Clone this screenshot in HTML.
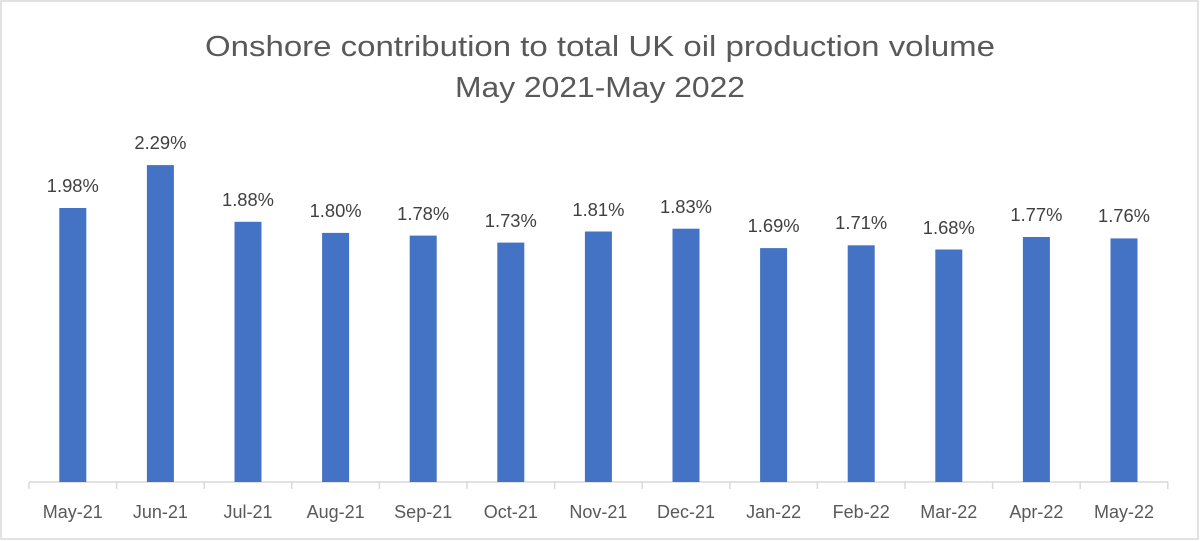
<!DOCTYPE html><html><head><style>body{margin:0;background:#fff}svg{display:block}</style></head><body>
<svg width="1200" height="541" xmlns="http://www.w3.org/2000/svg" font-family="Liberation Sans, sans-serif">
<rect x="1" y="1" width="1197" height="538" fill="#fff" stroke="#d9d9d9" stroke-width="1.5"/>
<text x="600" y="56" text-anchor="middle" font-size="29" fill="#595959" textLength="790" lengthAdjust="spacingAndGlyphs">Onshore contribution to total UK oil production volume</text>
<text x="600" y="97" text-anchor="middle" font-size="29" fill="#595959" textLength="290" lengthAdjust="spacingAndGlyphs">May 2021-May 2022</text>
<line x1="29" y1="482" x2="1168" y2="482" stroke="#d9d9d9" stroke-width="1.5"/>
<g stroke="#d9d9d9" stroke-width="1.5">
<line x1="29" y1="482" x2="29" y2="489"/><line x1="116.6" y1="482" x2="116.6" y2="489"/><line x1="204.2" y1="482" x2="204.2" y2="489"/><line x1="291.8" y1="482" x2="291.8" y2="489"/><line x1="379.4" y1="482" x2="379.4" y2="489"/><line x1="467" y1="482" x2="467" y2="489"/><line x1="554.6" y1="482" x2="554.6" y2="489"/><line x1="642.2" y1="482" x2="642.2" y2="489"/><line x1="729.8" y1="482" x2="729.8" y2="489"/><line x1="817.4" y1="482" x2="817.4" y2="489"/><line x1="905" y1="482" x2="905" y2="489"/><line x1="992.6" y1="482" x2="992.6" y2="489"/><line x1="1080.2" y1="482" x2="1080.2" y2="489"/><line x1="1167.8" y1="482" x2="1167.8" y2="489"/>
</g>
<g fill="#4472c4">
<rect x="59.3" y="208" width="27" height="274"/>
<rect x="146.9" y="165.1" width="27" height="316.9"/>
<rect x="234.5" y="221.8" width="27" height="260.2"/>
<rect x="322.1" y="232.9" width="27" height="249.1"/>
<rect x="409.7" y="235.6" width="27" height="246.4"/>
<rect x="497.3" y="242.6" width="27" height="239.4"/>
<rect x="584.9" y="231.5" width="27" height="250.5"/>
<rect x="672.5" y="228.7" width="27" height="253.3"/>
<rect x="760.1" y="248.1" width="27" height="233.9"/>
<rect x="847.7" y="245.3" width="27" height="236.7"/>
<rect x="935.3" y="249.5" width="27" height="232.5"/>
<rect x="1022.9" y="237" width="27" height="245"/>
<rect x="1110.5" y="238.4" width="27" height="243.6"/>
</g>
<g font-size="18" fill="#404040" text-anchor="middle">
<text x="72.8" y="192" textLength="52" lengthAdjust="spacingAndGlyphs">1.98%</text>
<text x="160.4" y="149" textLength="52" lengthAdjust="spacingAndGlyphs">2.29%</text>
<text x="248" y="206" textLength="52" lengthAdjust="spacingAndGlyphs">1.88%</text>
<text x="335.6" y="217" textLength="52" lengthAdjust="spacingAndGlyphs">1.80%</text>
<text x="423.2" y="220" textLength="52" lengthAdjust="spacingAndGlyphs">1.78%</text>
<text x="510.8" y="227" textLength="52" lengthAdjust="spacingAndGlyphs">1.73%</text>
<text x="598.4" y="216" textLength="52" lengthAdjust="spacingAndGlyphs">1.81%</text>
<text x="686" y="213" textLength="52" lengthAdjust="spacingAndGlyphs">1.83%</text>
<text x="773.6" y="232" textLength="52" lengthAdjust="spacingAndGlyphs">1.69%</text>
<text x="861.2" y="229" textLength="52" lengthAdjust="spacingAndGlyphs">1.71%</text>
<text x="948.8" y="234" textLength="52" lengthAdjust="spacingAndGlyphs">1.68%</text>
<text x="1036.4" y="221" textLength="52" lengthAdjust="spacingAndGlyphs">1.77%</text>
<text x="1124" y="222" textLength="52" lengthAdjust="spacingAndGlyphs">1.76%</text>
</g>
<g font-size="18" fill="#595959" text-anchor="middle">
<text x="72.8" y="518">May-21</text><text x="160.4" y="518">Jun-21</text><text x="248" y="518">Jul-21</text><text x="335.6" y="518">Aug-21</text><text x="423.2" y="518">Sep-21</text><text x="510.8" y="518">Oct-21</text><text x="598.4" y="518">Nov-21</text><text x="686" y="518">Dec-21</text><text x="773.6" y="518">Jan-22</text><text x="861.2" y="518">Feb-22</text><text x="948.8" y="518">Mar-22</text><text x="1036.4" y="518">Apr-22</text><text x="1124" y="518">May-22</text>
</g>
</svg></body></html>
